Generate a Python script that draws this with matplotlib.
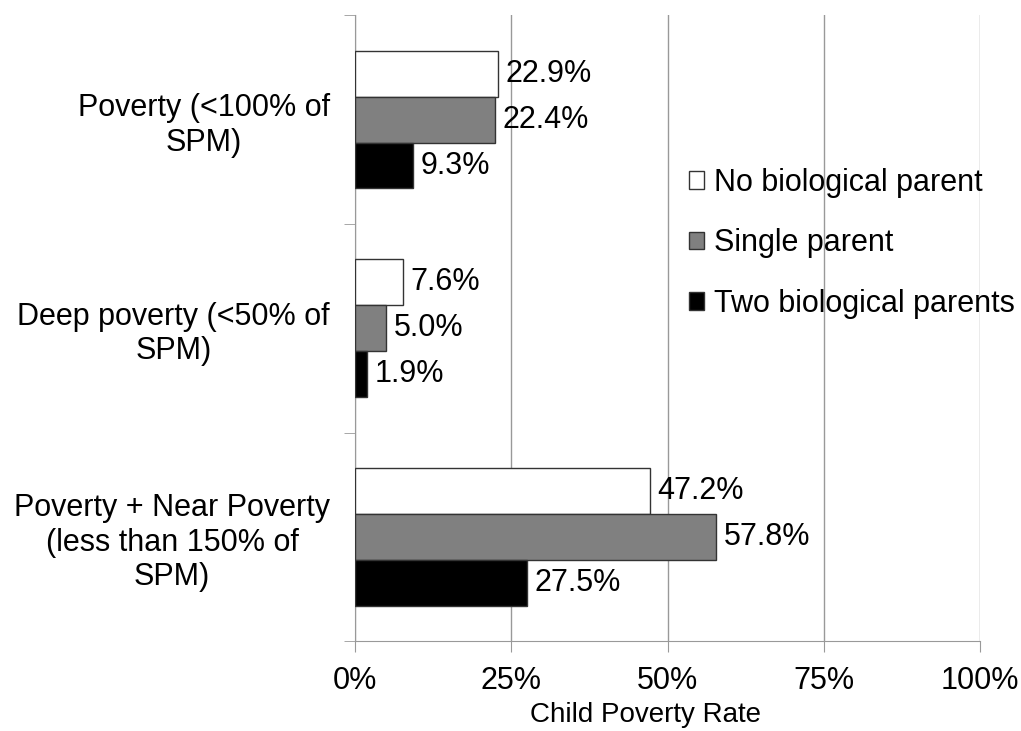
import numpy as np
import matplotlib.pyplot as plt

plt.rcParams['font.family'] = ['Liberation Sans', 'DejaVu Sans']

categories = ['Poverty (<100% of\nSPM)', 'Deep poverty (<50% of\nSPM)',
              'Poverty + Near Poverty\n(less than 150% of\nSPM)']
series = ['No biological parent', 'Single parent', 'Two biological parents']
no_bio = [22.9, 7.6, 47.2]
single = [22.4, 5.0, 57.8]
two_bio = [9.3, 1.9, 27.5]
colors = ['white', '#808080', 'black']

fs = 22
fig = plt.figure(figsize=(10.21, 7.31), dpi=100)
ax = fig.add_axes([0.3477, 0.123, 0.6123, 0.856])

y = np.arange(len(categories))
h = 0.22
vals = [no_bio, single, two_bio]
handles = []
for i, (v, c, name) in enumerate(zip(vals, colors, series)):
    pos = y + (i - 1) * h
    b = ax.barh(pos, v, height=h, color=c, edgecolor='#333333', linewidth=1, label=name, zorder=3)
    handles.append(b)
    for p, val in zip(pos, v):
        ax.text(val + 1.2, p, f'{val:.1f}%', va='center', ha='left', fontsize=fs)

ax.set_xlim(0, 100)
ax.set_ylim(2.5, -0.5)
ax.set_xticks([0, 25, 50, 75, 100])
ax.set_xticklabels(['0%', '25%', '50%', '75%', '100%'], fontsize=fs)
ax.set_yticks(y)
ax.set_yticklabels(categories, fontsize=fs, ha='right', multialignment='center')
ax.tick_params(axis='y', length=0, pad=18)
ax.set_yticks([-0.5, 0.5, 1.5, 2.5], minor=True)
ax.tick_params(axis='y', which='minor', length=8, color='#999999')
ax.tick_params(axis='x', length=8, color='#999999', pad=10)
ax.xaxis.grid(True, color='#999999', linewidth=1, zorder=0)
for s in ['top', 'right']:
    ax.spines[s].set_visible(False)
ax.spines['left'].set_color('#999999')
ax.spines['bottom'].set_color('#999999')
ax.set_xlabel('Child Poverty Rate', fontsize=20)
ax.xaxis.set_label_coords(0.464, -0.0975)

ax.legend(handles=handles, loc='upper left', bbox_to_anchor=(0.648, 0.808), bbox_transform=fig.transFigure,
          frameon=False, fontsize=fs, handlelength=0.5, handleheight=0.5, handletextpad=0.3,
          labelspacing=1.0)

fig.savefig('out.png', dpi=100)
